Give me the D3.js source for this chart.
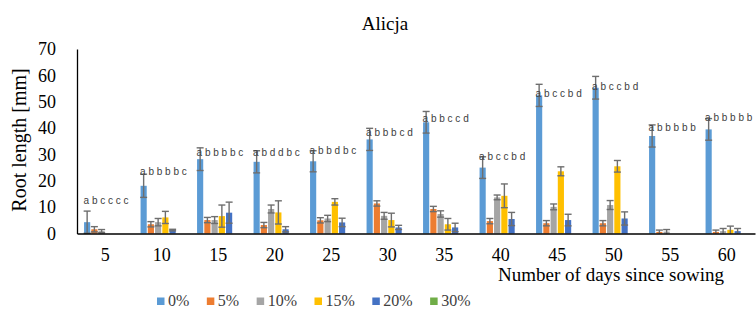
<!DOCTYPE html>
<html>
<head>
<meta charset="utf-8">
<script src="https://cdn.jsdelivr.net/npm/d3@7"></script>
<style>
  body { margin: 0; background: #fff; }
  svg { display: block; }
  .serif { font-family: "Liberation Serif", "Times New Roman", "DejaVu Serif", serif; }
  .sans { font-family: "Liberation Sans", Arial, sans-serif; }
</style>
</head>
<body>
<div id="chart"></div>
<script>
// root length chart, Alicja

// days on the x axis
let days = [5, 10, 15, 20, 25, 30, 35, 40, 45, 50, 55, 60];

// concentrations (series)
let seriesNames = ["0%", "5%", "10%", "15%", "20%", "30%"];

let colors = ["#5B9BD5", "#ED7D31", "#A5A5A5", "#FFC000", "#4472C4", "#70AD47"];

// mean root length [mm], one array per series
let mean0  = [4.3, 18.1, 28.2, 27.2, 27.4, 35.7, 42.2, 25.0, 52.4, 55.3, 37.0, 39.5];
let mean5  = [1.6, 3.5, 5.1, 3.2, 5.0, 11.4, 9.3, 4.7, 3.9, 3.9, 0.6, 0.6];
let mean10 = [0.9, 4.3, 5.1, 9.3, 5.7, 6.7, 7.4, 13.7, 10.1, 10.8, 0.7, 0.9];
let mean15 = [0, 6.1, 6.6, 8.0, 12.0, 5.1, 3.5, 14.3, 23.6, 25.5, 0, 1.4];
let mean20 = [0, 1.3, 7.9, 1.6, 4.2, 2.3, 2.3, 5.5, 5.1, 5.7, 0, 0.9];
let mean30 = [0, 0, 0, 0, 0, 0, 0, 0, 0, 0, 0, 0];

// error (+/-) for each series
let err0  = [4.2, 4.4, 4.3, 4.2, 4.0, 4.2, 4.1, 4.1, 4.2, 4.3, 4.2, 4.1];
let err5  = [1.0, 1.0, 1.0, 1.0, 1.0, 1.0, 1.0, 1.0, 1.0, 1.0, 0.7, 0.7];
let err10 = [0.6, 1.4, 1.3, 1.5, 1.2, 1.3, 1.2, 0.9, 1.1, 1.7, 0.8, 1.0];
let err15 = [0, 2.3, 4.2, 4.4, 1.2, 2.6, 2.2, 4.5, 1.7, 2.2, 0, 1.4];
let err20 = [0, 0.3, 4.0, 1.0, 1.6, 0.8, 1.6, 2.5, 2.2, 2.5, 0, 1.0];
let err30 = [0, 0, 0, 0, 0, 0, 0, 0, 0, 0, 0, 0];

// significance letters per day, and the value (mm) where they sit
let letters = ["a b c c c c", "a b b b b c", "a b b b b c", "a b d d b c", "a b b d b c", "a b b b c d",
               "a b b c c d", "a b c c b d", "a b c c b d", "a b c c b d", "a b b b b b", "a b b b b b"];
let letterLevel = [12.7, 23.4, 30.7, 30.6, 31.6, 38.4, 43.8, 29.1, 53.0, 55.8, 40.2, 44.0];

let yTicks = [0, 10, 20, 30, 40, 50, 60, 70];

let means = [mean0, mean5, mean10, mean15, mean20, mean30];
let errs = [err0, err5, err10, err15, err20, err30];

// build a flat table for the bars
let table = [];
seriesNames.forEach(function(s, si) {
  days.forEach(function(d, di) {
    table.push({day: d, series: s, si: si, value: means[si][di], err: errs[si][di]});
  });
});

let w = 756, h = 313;
let plotLeft = 77, plotRight = 755, plotTop = 49, plotBottom = 233.5;

let svg = d3.select("#chart").append("svg")
  .attr("width", w)
  .attr("height", h);

let x = d3.scaleBand()
  .domain(days)
  .range([plotLeft, plotRight])
  .padding(0);

let x1 = d3.scaleBand()
  .domain(seriesNames)
  .range([0, x.bandwidth()])
  .paddingInner(0.15)
  .paddingOuter(0.975);

let y = d3.scaleLinear()
  .domain([0, 70])
  .range([plotBottom, plotTop]);

// bars
svg.append("g").selectAll("rect")
  .data(table.filter(d => d.value > 0))
  .enter()
  .append("rect")
  .attr("x", d => x(d.day) + x1(d.series))
  .attr("y", d => y(d.value))
  .attr("width", x1.bandwidth())
  .attr("height", d => y(0) - y(d.value))
  .attr("fill", d => colors[d.si]);

// error bars
let eb = svg.append("g")
  .attr("stroke", "#6e6e6e")
  .attr("stroke-width", 1.4)
  .selectAll("g")
  .data(table.filter(d => d.err > 0))
  .enter()
  .append("g");

function cx(d) { return x(d.day) + x1(d.series) + x1.bandwidth() / 2; }

eb.append("line")
  .attr("x1", cx)
  .attr("x2", cx)
  .attr("y1", d => y(d.value + d.err))
  .attr("y2", d => Math.min(y(d.value - d.err), y(0)));

eb.append("line")
  .attr("x1", d => cx(d) - 3.5)
  .attr("x2", d => cx(d) + 3.5)
  .attr("y1", d => y(d.value + d.err))
  .attr("y2", d => y(d.value + d.err));

eb.filter(d => d.value - d.err > 0).append("line")
  .attr("x1", d => cx(d) - 3.5)
  .attr("x2", d => cx(d) + 3.5)
  .attr("y1", d => y(d.value - d.err))
  .attr("y2", d => y(d.value - d.err));

// letters
svg.append("g").selectAll("text")
  .data(days)
  .enter()
  .append("text")
  .attr("class", "sans")
  .attr("x", d => x(d) + x1(seriesNames[0]) - 0.5)
  .attr("y", (d, i) => y(letterLevel[i]))
  .attr("dy", "0.35em")
  .style("font-size", "10px")
  .attr("fill", "#404040")
  .text((d, i) => letters[i]);

// y axis
let yAxis = svg.append("g")
  .attr("transform", "translate(" + plotLeft + ",0)")
  .call(d3.axisLeft(y).tickValues(yTicks).tickSize(0).tickPadding(21));
yAxis.select(".domain").attr("stroke", "#000").attr("stroke-width", 1.3);
yAxis.selectAll("text")
  .attr("class", "serif")
  .style("font-size", "18px")
  .attr("fill", "#000");

// x axis
let xAxis = svg.append("g")
  .attr("transform", "translate(0," + plotBottom + ")")
  .call(d3.axisBottom(x).tickSize(0).tickPadding(15));
xAxis.select(".domain").attr("stroke", "#000").attr("stroke-width", 1.3);
xAxis.selectAll("text")
  .attr("class", "serif")
  .style("font-size", "18px")
  .attr("fill", "#000");

// titles
svg.append("text")
  .attr("class", "serif")
  .attr("x", 385)
  .attr("y", 30)
  .attr("text-anchor", "middle")
  .style("font-size", "19px")
  .text("Alicja");

svg.append("text")
  .attr("class", "serif")
  .attr("transform", "translate(26,140) rotate(-90)")
  .attr("text-anchor", "middle")
  .style("font-size", "20px")
  .text("Root length [mm]");

svg.append("text")
  .attr("class", "serif")
  .attr("x", 611)
  .attr("y", 280.5)
  .attr("text-anchor", "middle")
  .style("font-size", "19px")
  .text("Number of days since sowing");

// legend
let legend = svg.append("g");
let lx = 157;
seriesNames.forEach(function(s, i) {
  legend.append("rect")
    .attr("x", lx)
    .attr("y", 297.5)
    .attr("width", 7.5)
    .attr("height", 7.5)
    .attr("fill", colors[i]);
  let t = legend.append("text")
    .attr("class", "serif")
    .attr("x", lx + 11)
    .attr("y", 306)
    .style("font-size", "16px")
    .attr("fill", "#404040")
    .text(s);
  lx += 11 + t.node().getComputedTextLength() + 17.5;
});
</script>
</body>
</html>
